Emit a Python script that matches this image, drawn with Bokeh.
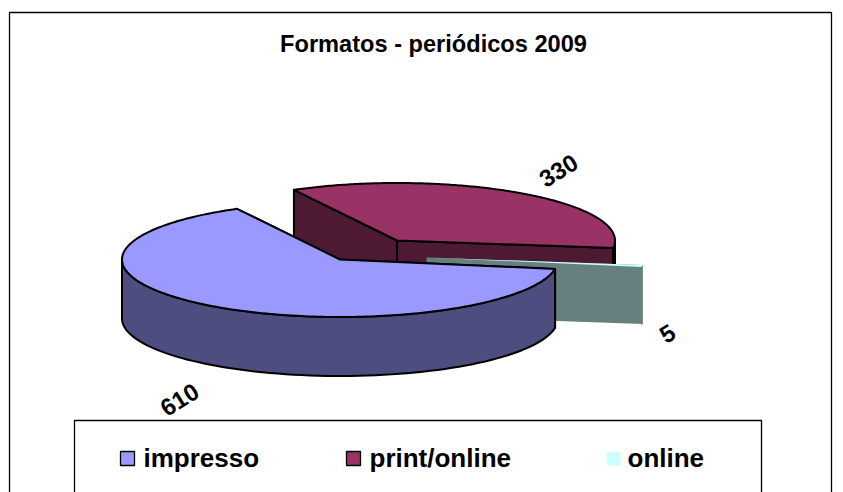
import numpy as np
from bokeh.plotting import figure
from bokeh.models import Range1d
from bokeh.core.properties import value
from bokeh.embed import file_html
from bokeh.resources import INLINE

title = "Formatos - periódicos 2009"
categories = ["impresso", "print/online", "online"]
values = [610, 330, 5]
top_colors = ["#9999FF", "#993366", "#CCFFFF"]
side_colors = ["#4D4D80", "#4D1933", "#668080"]
edge_colors = ["black", "black", None]
explode = [(339.5, 259), (396.5, 240), (426, 257)]   # slice apex on screen
label_pos = [(179, 399), (558, 170), (667, 333)]
label_rot = [32, 32, 32]
legend_swatch_x = [120, 346, 606]
legend_text_x = [143, 369, 627]

A, B, DEPTH = 218, 57.5, 59
START = -9.4      # degrees, parametric angle on the ellipse, going clockwise
FONT = value("Liberation Sans")

W, H = 843, 492
p = figure(width=W, height=H, x_range=Range1d(0, W), y_range=Range1d(H, 0),
           output_backend="svg", toolbar_location=None, min_border=0,
           background_fill_color="white", border_fill_color="white")
p.axis.visible = False
p.grid.visible = False
p.outline_line_color = None

# chart frame and legend box (open at the bottom, the page cuts them)
p.multi_line([[9, 9, 831, 831], [74, 74, 761, 761]],
             [[492, 12, 12, 492], [492, 420, 420, 492]],
             line_color="black", line_width=1.3)

total = sum(values)
spans = [v / total * 360 for v in values]
starts = [START - sum(spans[:i]) for i in range(3)]


def pt(c, t):
    t = np.radians(t)
    return c[0] + A * np.cos(t), c[1] - B * np.sin(t)


def poly(xs, ys, fill, edge, lw=2.0):
    p.patch(list(xs), list(ys), fill_color=fill, line_color=edge, line_width=lw,
            line_join="round")


def draw_slice(i):
    c, s, e = explode[i], starts[i], starts[i] - spans[i]
    fill, side, edge = top_colors[i], side_colors[i], edge_colors[i]
    lw = 2.0 if edge else 0
    ax, ay = c
    # cut faces
    for t in (e, s):
        x, y = pt(c, t)
        if i == 2 and t == e:
            continue
        poly([ax, x, x, ax], [ay, y, y + DEPTH, ay + DEPTH], side, edge, lw)
    # outer wall: the part of the arc that faces the viewer
    for lo, hi in [(-180, 0), (-540, -360)]:
        a0, a1 = max(e, lo), min(s, hi)
        if a1 > a0:
            ts = np.linspace(a0, a1, 80)
            xs, ys = pt(c, ts)
            poly(np.r_[xs, xs[::-1]], np.r_[ys, ys[::-1] + DEPTH], side, edge, lw)
    # top
    ts = np.linspace(s, e, 200)
    xs, ys = pt(c, ts)
    poly(np.r_[ax, xs], np.r_[ay, ys], fill, edge, lw)


for i in (1, 2, 0):
    draw_slice(i)

# data labels
for v, (x, y), r in zip(values, label_pos, label_rot):
    p.text([x], [y], text=[str(v)], angle=np.radians(r), text_align="center",
           text_baseline="middle", text_font=FONT, text_font_style="bold",
           text_font_size="24px", text_color="black")

# title
p.text([433], [43], text=[title], text_align="center", text_baseline="middle",
       text_font=FONT, text_font_style="bold", text_font_size="23.6px", text_color="black")

# legend
for i, c in enumerate(categories):
    x = legend_swatch_x[i]
    edge = edge_colors[i]
    p.patch([x, x + 14, x + 14, x], [451, 451, 465, 465], fill_color=top_colors[i],
            line_color=edge, line_width=1.3)
    p.text([legend_text_x[i]], [457.5], text=[c], text_align="left", text_baseline="middle",
           text_font=FONT, text_font_style="bold", text_font_size="26px", text_color="black")

open("out.html", "w").write(file_html(p, INLINE))
